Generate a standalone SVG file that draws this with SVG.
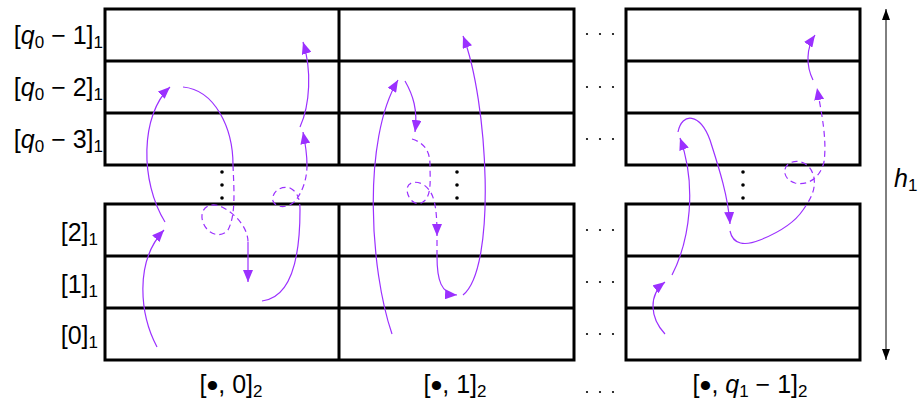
<svg xmlns="http://www.w3.org/2000/svg" width="918" height="403" viewBox="0 0 918 403">
<style>
.grid{fill:none;stroke:#000;stroke-width:3}
.lab{font-family:"Liberation Sans","DejaVu Sans",sans-serif;font-size:25px;fill:#000}
.sub{font-size:17px}
.it{font-style:italic}
.bul{font-size:34px}
.p{fill:none;stroke:#9B30FF;stroke-width:1.2}
.d{stroke-dasharray:6 4}
.dot{fill:#000}
</style>
<defs>
<marker id="ah" viewBox="0 0 12 10" refX="12" refY="5" markerWidth="12" markerHeight="10" markerUnits="userSpaceOnUse" orient="auto">
<path d="M0,0 L12,5 L0,10 z" fill="#9B30FF"/>
</marker>
<marker id="ak" viewBox="0 0 11 8" refX="11" refY="4" markerWidth="11" markerHeight="8" markerUnits="userSpaceOnUse" orient="auto-start-reverse">
<path d="M0,0 L11,4 L0,8 z" fill="#000"/>
</marker>
</defs>
<rect width="918" height="403" fill="#fff"/>
<g id="grid">
<g id="block-top-left">
<rect class="grid" x="105" y="9" width="469" height="156"/>
<path class="grid" d="M339,9 V165 M105,61 H574 M105,113 H574"/>
</g>
<g id="block-bottom-left">
<rect class="grid" x="105" y="204" width="469" height="156"/>
<path class="grid" d="M339,204 V360 M105,256 H574 M105,308 H574"/>
</g>
<g id="block-top-right">
<rect class="grid" x="626" y="9" width="234" height="156"/>
<path class="grid" d="M626,61 H860 M626,113 H860"/>
</g>
<g id="block-bottom-right">
<rect class="grid" x="626" y="204" width="234" height="156"/>
<path class="grid" d="M626,256 H860 M626,308 H860"/>
</g>
</g>
<g id="dots">
<circle class="dot" cx="587" cy="34" r="1.1"/><circle class="dot" cx="600" cy="34" r="1.1"/><circle class="dot" cx="613" cy="34" r="1.1"/>
<circle class="dot" cx="587" cy="87" r="1.1"/><circle class="dot" cx="600" cy="87" r="1.1"/><circle class="dot" cx="613" cy="87" r="1.1"/>
<circle class="dot" cx="587" cy="139" r="1.1"/><circle class="dot" cx="600" cy="139" r="1.1"/><circle class="dot" cx="613" cy="139" r="1.1"/>
<circle class="dot" cx="587" cy="230" r="1.1"/><circle class="dot" cx="600" cy="230" r="1.1"/><circle class="dot" cx="613" cy="230" r="1.1"/>
<circle class="dot" cx="587" cy="282" r="1.1"/><circle class="dot" cx="600" cy="282" r="1.1"/><circle class="dot" cx="613" cy="282" r="1.1"/>
<circle class="dot" cx="587" cy="334" r="1.1"/><circle class="dot" cx="600" cy="334" r="1.1"/><circle class="dot" cx="613" cy="334" r="1.1"/>
<circle class="dot" cx="587" cy="392" r="1.1"/><circle class="dot" cx="600" cy="392" r="1.1"/><circle class="dot" cx="613" cy="392" r="1.1"/>
<circle class="dot" cx="222" cy="172" r="1.8"/><circle class="dot" cx="222" cy="185" r="1.8"/><circle class="dot" cx="222" cy="198" r="1.8"/>
<circle class="dot" cx="457" cy="172" r="1.8"/><circle class="dot" cx="457" cy="185" r="1.8"/><circle class="dot" cx="457" cy="198" r="1.8"/>
<circle class="dot" cx="743" cy="172" r="1.8"/><circle class="dot" cx="743" cy="185" r="1.8"/><circle class="dot" cx="743" cy="198" r="1.8"/>
</g>
<g id="row-labels">
<text class="lab" x="103" y="44" text-anchor="end">[<tspan class="it">q</tspan><tspan class="sub" dy="4">0</tspan><tspan dy="-4"> − 1]</tspan><tspan class="sub" dy="4">1</tspan></text>
<text class="lab" x="103" y="96" text-anchor="end">[<tspan class="it">q</tspan><tspan class="sub" dy="4">0</tspan><tspan dy="-4"> − 2]</tspan><tspan class="sub" dy="4">1</tspan></text>
<text class="lab" x="103" y="148" text-anchor="end">[<tspan class="it">q</tspan><tspan class="sub" dy="4">0</tspan><tspan dy="-4"> − 3]</tspan><tspan class="sub" dy="4">1</tspan></text>
<text class="lab" x="98" y="241" text-anchor="end">[2]<tspan class="sub" dy="4">1</tspan></text>
<text class="lab" x="98" y="293" text-anchor="end">[1]<tspan class="sub" dy="4">1</tspan></text>
<text class="lab" x="98" y="344" text-anchor="end">[0]<tspan class="sub" dy="4">1</tspan></text>
</g>
<g id="col-labels">
<text class="lab" x="231" y="393" text-anchor="middle">[<tspan class="bul" dy="4">•</tspan><tspan dy="-4">, 0]</tspan><tspan class="sub" dy="4">2</tspan></text>
<text class="lab" x="455" y="393" text-anchor="middle">[<tspan class="bul" dy="4">•</tspan><tspan dy="-4">, 1]</tspan><tspan class="sub" dy="4">2</tspan></text>
<text class="lab" x="750" y="393" text-anchor="middle">[<tspan class="bul" dy="4">•</tspan><tspan dy="-4">, </tspan><tspan class="it">q</tspan><tspan class="sub" dy="4">1</tspan><tspan dy="-4"> − 1]</tspan><tspan class="sub" dy="4">2</tspan></text>
</g>
<g id="height">
<path d="M886,9 V360" stroke="#000" stroke-width="1" fill="none" marker-start="url(#ak)" marker-end="url(#ak)"/>
<text class="lab" x="894" y="187"><tspan class="it">h</tspan><tspan class="sub" dy="4">1</tspan></text>
</g>
<g id="connectors">
<path class="p" d="M157,347 C140,315 134,262 164,230" marker-end="url(#ah)"/>
<path class="p" d="M165,222 C140,182 140,115 170,87" marker-end="url(#ah)"/>
<path class="p" d="M183,87 C215,90 233,128 233,165"/>
<path class="p d" d="M233,165 C234,190 236,215 228,230 C220,240 204,233 202,218 C201,206 212,202 222,207 C236,214 248,228 248,242"/>
<path class="p" d="M248,242 L248,282" marker-end="url(#ah)"/>
<path class="p" d="M262,301 C288,298 300,265 300,210"/>
<path class="p d" d="M300,210 C300,200 298,192 290,188 C280,185 271,193 273,201 C276,209 290,208 296,200 C302,192 307,180 307,165"/>
<path class="p" d="M307,165 C307,152 305,142 303,132" marker-end="url(#ah)"/>
<path class="p" d="M300,127 C310,105 312,70 303,42" marker-end="url(#ah)"/>
<path class="p" d="M392,334 C370,270 362,140 398,80" marker-end="url(#ah)"/>
<path class="p" d="M405,81 C413,95 418,110 415,132" marker-end="url(#ah)"/>
<path class="p d" d="M412,139 C425,143 430,152 430,165 C430,180 432,196 423,202 C416,207 408,200 407,190 C407,182 416,180 424,185 C434,192 437,205 437,236" marker-end="url(#ah)"/>
<path class="p d" d="M437,240 L437,256"/>
<path class="p" d="M437,256 C437,280 441,294 457,295" marker-end="url(#ah)"/>
<path class="p" d="M463,295 C497,268 488,100 463,36" marker-end="url(#ah)"/>
<path class="p" d="M665,334 C650,318 648,295 665,282" marker-end="url(#ah)"/>
<path class="p" d="M672,275 C690,240 697,185 680,138" marker-end="url(#ah)"/>
<path class="p" d="M678,132 C682,112 700,113 710,140 C718,165 728,195 730,224" marker-end="url(#ah)"/>
<path class="p" d="M730,231 C733,245 745,246 760,240 C780,232 795,222 803,210"/>
<path class="p d" d="M803,210 C810,200 816,190 814,178 C812,165 800,158 790,163 C781,168 784,180 795,183 C808,186 820,178 824,162 C827,140 822,115 817,88" marker-end="url(#ah)"/>
<path class="p" d="M813,80 C806,66 806,48 815,35" marker-end="url(#ah)"/>
</g>
</svg>
